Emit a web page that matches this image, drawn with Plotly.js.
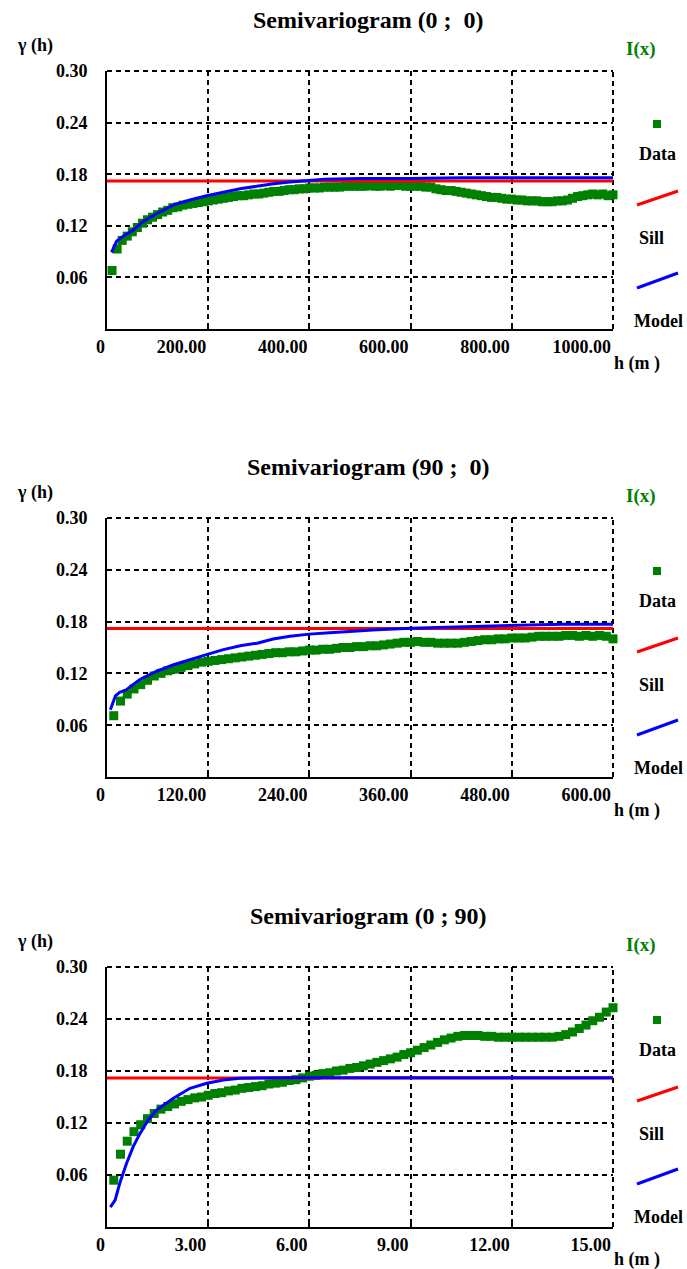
<!DOCTYPE html>
<html><head><meta charset="utf-8">
<script src="https://cdn.plot.ly/plotly-3.0.1.min.js"></script>
<style>html,body{margin:0;padding:0;background:#fff;} #chart{width:687px;height:1269px;}</style>
</head><body><div id="chart"></div>
<script>
// ---------- data ----------
const panelTitles = ["Semivariogram (0 ;\u00a0 0)", "Semivariogram (90 ;\u00a0 0)", "Semivariogram (0 ; 90)"];
const xMax = [1000, 600, 15];
const xTickVals1 = [0, 200, 400, 600, 800, 1000];
const xTickText1 = ["0", "200.00", "400.00", "600.00", "800.00", "1000.00"];
const xTickVals2 = [0, 120, 240, 360, 480, 600];
const xTickText2 = ["0", "120.00", "240.00", "360.00", "480.00", "600.00"];
const xTickVals3 = [0, 3, 6, 9, 12, 15];
const xTickText3 = ["0", "3.00", "6.00", "9.00", "12.00", "15.00"];
const yTickVals = [0.06, 0.12, 0.18, 0.24, 0.30];
const yTickText = ["0.06", "0.12", "0.18", "0.24", "0.30"];
const sillValues = [0.172, 0.172, 0.172];

// Panel 1 : Semivariogram (0 ; 0)
const data1X = [10,20,30,40,50,60,70,80,90,100,110,120,130,140,150,160,170,180,190,200,
  210,220,230,240,250,260,270,280,290,300,310,320,330,340,350,360,370,380,390,400,
  410,420,430,440,450,460,470,480,490,500,510,520,530,540,550,560,570,580,590,600,
  610,620,630,640,650,660,670,680,690,700,710,720,730,740,750,760,770,780,790,800,
  810,820,830,840,850,860,870,880,890,900,910,920,930,940,950,960,970,980,990,1000];
const data1Y = [0.068,0.093,0.103,0.108,0.113,0.118,0.123,0.127,0.130,0.133,0.136,0.138,0.141,0.142,0.144,0.145,0.146,0.147,0.148,0.149,
  0.150,0.151,0.152,0.153,0.154,0.155,0.155,0.156,0.157,0.157,0.158,0.159,0.160,0.160,0.161,0.162,0.162,0.163,0.163,0.164,
  0.164,0.164,0.165,0.165,0.165,0.165,0.166,0.166,0.166,0.166,0.166,0.167,0.166,0.166,0.167,0.166,0.167,0.167,0.166,0.166,
  0.166,0.166,0.165,0.165,0.163,0.162,0.161,0.161,0.160,0.159,0.158,0.157,0.156,0.155,0.154,0.153,0.153,0.152,0.151,0.151,
  0.150,0.150,0.149,0.149,0.149,0.148,0.148,0.148,0.149,0.149,0.150,0.152,0.154,0.155,0.156,0.157,0.156,0.157,0.155,0.156];
const model1X = [9,19,32,52,72,98,131,164,197,230,263,296,329,362,400,430,500,600,700,800,900,1000];
const model1Y = [0.089,0.102,0.108,0.115,0.125,0.134,0.144,0.150,0.155,0.159,0.163,0.166,0.169,0.171,0.173,0.174,0.175,0.175,0.176,0.176,0.176,0.176];

// Panel 2 : Semivariogram (90 ; 0)
const data2X = [8,16,24,32,40,48,56,64,72,80,88,96,104,112,120,128,136,144,152,160,
  168,176,184,192,200,208,216,224,232,240,248,256,264,272,280,288,296,304,312,320,
  328,336,344,352,360,368,376,384,392,400,408,416,424,432,440,448,456,464,472,480,
  488,496,504,512,520,528,536,544,552,560,568,576,584,592,600];
const data2Y = [0.071,0.088,0.096,0.102,0.107,0.112,0.117,0.120,0.123,0.125,0.127,0.129,0.131,0.133,0.134,0.135,0.136,0.137,0.138,0.139,
  0.140,0.141,0.142,0.143,0.144,0.144,0.145,0.145,0.146,0.147,0.147,0.148,0.148,0.149,0.150,0.150,0.151,0.151,0.152,0.152,
  0.153,0.154,0.155,0.156,0.156,0.157,0.156,0.156,0.155,0.155,0.155,0.155,0.156,0.157,0.158,0.159,0.159,0.160,0.160,0.161,
  0.161,0.161,0.162,0.163,0.163,0.163,0.163,0.164,0.164,0.163,0.164,0.163,0.164,0.163,0.160];
const model2X = [4,10,15,23,39,59,79,98,118,138,158,178,197,217,240,264,290,320,361,421,480,539,600];
const model2Y = [0.078,0.094,0.098,0.101,0.113,0.1225,0.130,0.136,0.1417,0.1475,0.152,0.155,0.1598,0.1629,0.1655,0.167,0.169,0.1705,0.1724,0.1742,0.1755,0.177,0.177];

// Panel 3 : Semivariogram (0 ; 90)
const data3X = [0.2,0.4,0.6,0.8,1.0,1.2,1.4,1.6,1.8,2.0,2.2,2.4,2.6,2.8,3.0,3.2,3.4,3.6,3.8,4.0,
  4.2,4.4,4.6,4.8,5.0,5.2,5.4,5.6,5.8,6.0,6.2,6.4,6.6,6.8,7.0,7.2,7.4,7.6,7.8,8.0,
  8.2,8.4,8.6,8.8,9.0,9.2,9.4,9.6,9.8,10.0,10.2,10.4,10.6,10.8,11.0,11.2,11.4,11.6,11.8,12.0,
  12.2,12.4,12.6,12.8,13.0,13.2,13.4,13.6,13.8,14.0,14.2,14.4,14.6,14.8,15.0];
const data3Y = [0.054,0.084,0.099,0.110,0.118,0.125,0.131,0.136,0.139,0.142,0.145,0.147,0.149,0.150,0.152,0.154,0.155,0.157,0.158,0.160,
  0.161,0.162,0.163,0.165,0.166,0.167,0.169,0.170,0.172,0.174,0.175,0.177,0.178,0.180,0.181,0.183,0.184,0.186,0.188,0.190,
  0.192,0.194,0.196,0.199,0.201,0.204,0.207,0.210,0.213,0.216,0.218,0.220,0.221,0.221,0.221,0.220,0.220,0.219,0.219,0.219,
  0.219,0.219,0.219,0.219,0.219,0.219,0.220,0.222,0.225,0.229,0.233,0.238,0.242,0.248,0.253];
const model3X = [0.1,0.24,0.39,0.58,0.78,0.98,1.22,1.47,1.97,2.46,2.96,3.45,3.94,4.5,5,6,8,10,12,15];
const model3Y = [0.023,0.031,0.052,0.0735,0.093,0.108,0.1235,0.135,0.1485,0.160,0.1658,0.1696,0.1716,0.172,0.1722,0.1722,0.1722,0.1722,0.1722,0.1722];

// ---------- layout helpers ----------
const FONT = "Liberation Serif";
const GREEN = "#008000", RED = "#ff0000", BLUE = "#0000ff";
const DASH = "5px,4px";
const GW = 2;
const W = 687, H = 1269;
const plotL = 107, plotR = 613;
const panelTop = [71, 518, 967];
const panelBot = [329, 777, 1227];
const topAll = 71, botAll = 1227;

const dataX = [data1X, data2X, data3X], dataY = [data1Y, data2Y, data3Y];
const modelX = [model1X, model2X, model3X], modelY = [model1Y, model2Y, model3Y];
const tickVals = [xTickVals1, xTickVals2, xTickVals3], tickText = [xTickText1, xTickText2, xTickText3];

const traces = [];
const layout = {
  width: W, height: H,
  margin: {l: plotL, r: W - plotR, t: topAll, b: H - botAll},
  paper_bgcolor: "#fff", plot_bgcolor: "#fff",
  showlegend: false,
  font: {family: FONT, size: 18, color: "#000", weight: 700},
  annotations: [], shapes: []
};

for (let p = 0; p < 3; p++) {
  const n = p + 1;
  const xa = "x" + (n === 1 ? "" : n), ya = "y" + (n === 1 ? "" : n);
  const xKey = "xaxis" + (n === 1 ? "" : n), yKey = "yaxis" + (n === 1 ? "" : n);
  traces.push({x: dataX[p], y: dataY[p], xaxis: xa, yaxis: ya, type: "scatter", mode: "markers",
    marker: {symbol: "square", size: 9, color: GREEN, line: {width: 0}}, name: "Data", cliponaxis: false});
  traces.push({x: [0, xMax[p]], y: [sillValues[p], sillValues[p]], xaxis: xa, yaxis: ya, type: "scatter", mode: "lines",
    line: {color: RED, width: 3}, name: "Sill"});
  traces.push({x: modelX[p], y: modelY[p], xaxis: xa, yaxis: ya, type: "scatter", mode: "lines",
    line: {color: BLUE, width: 3}, name: "Model"});

  const d0 = (botAll - panelBot[p]) / (botAll - topAll), d1 = (botAll - panelTop[p]) / (botAll - topAll);
  layout[xKey] = {
    anchor: ya, domain: [0, 1], range: [0, xMax[p]], fixedrange: true,
    tickmode: "array", tickvals: tickVals[p], ticktext: tickText[p],
    ticklabelposition: "outside left",
    tickfont: {family: FONT, size: 18, color: "#000", weight: 700},
    ticks: "inside", ticklen: 3, tickwidth: 2, tickcolor: "#000",
    showgrid: true, gridcolor: "#000", gridwidth: GW, griddash: DASH,
    showline: true, linecolor: "#000", linewidth: 2, zeroline: false
  };
  layout[yKey] = {
    anchor: xa, domain: [d0, d1], range: [0, 0.30], fixedrange: true,
    tickmode: "array", tickvals: yTickVals, ticktext: yTickText,
    tickfont: {family: FONT, size: 18, color: "#000", weight: 700},
    ticks: "inside", ticklen: 3, tickwidth: 2, tickcolor: "#000", ticklabelstandoff: 14,
    showgrid: true, gridcolor: "#000", gridwidth: GW, griddash: DASH,
    showline: true, linecolor: "#000", linewidth: 2, zeroline: false
  };

  const Hp = panelBot[p] - panelTop[p];
  const dx = px => (px - plotL) / (plotR - plotL);
  const dy = off => 1 - off / Hp;
  const xr = xa + " domain", yr = ya + " domain";
  const ann = (txt, px, off, size, color) => layout.annotations.push({
    text: txt, xref: xr, yref: yr, x: dx(px), y: dy(off), xanchor: "center", yanchor: "middle",
    showarrow: false, font: {family: FONT, size: size, color: color || "#000", weight: 700}
  });
  ann(panelTitles[p], 368, -51, 24);
  ann("\u03b3 (h)", 35, -26, 18);
  ann("I(x)", 641, -22, 19, GREEN);
  ann("Data", 657, 83, 18);
  ann("Sill", 651, 167, 18);
  ann("Model", 658, 250, 18);
  ann("h (m )", 637, 292, 18);
  // dashed frame on the top and right edges (grid lines at the range ends)
  layout.shapes.push({type: "line", xref: xr, yref: yr, x0: 0, x1: 1, y0: 1, y1: 1, layer: "below",
    line: {color: "#000", width: GW, dash: DASH}});
  layout.shapes.push({type: "line", xref: xr, yref: yr, x0: 1, x1: 1, y0: 0, y1: 1, layer: "below",
    line: {color: "#000", width: GW, dash: DASH}});
  // legend symbols
  layout.shapes.push({type: "rect", xref: xr, yref: yr, x0: dx(653), x1: dx(661), y0: dy(57), y1: dy(49),
    fillcolor: GREEN, line: {width: 0}});
  layout.shapes.push({type: "line", xref: xr, yref: yr, x0: dx(637), y0: dy(134), x1: dx(678), y1: dy(120),
    line: {color: RED, width: 3}});
  layout.shapes.push({type: "line", xref: xr, yref: yr, x0: dx(637), y0: dy(217), x1: dx(678), y1: dy(202),
    line: {color: BLUE, width: 3}});
}

Plotly.newPlot("chart", traces, layout, {displayModeBar: false, staticPlot: true});
</script>
</body></html>
